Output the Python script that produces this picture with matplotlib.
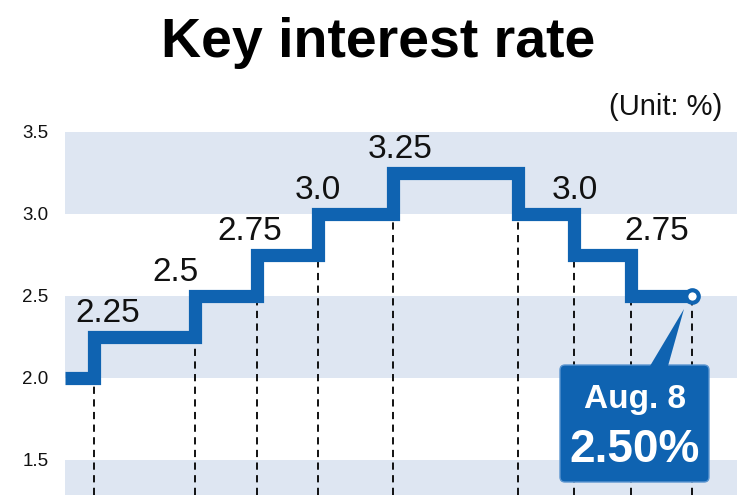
import matplotlib.pyplot as plt
from matplotlib.patches import FancyBboxPatch, Polygon

# step change points (relative position along the time axis) and rate after each change
change_x = [0, 29, 130, 192, 253, 328, 453, 509, 566]
rates = [2.0, 2.25, 2.5, 2.75, 3.0, 3.25, 3.0, 2.75, 2.5]
end_x = 627

label_text = ["2.25", "2.5", "2.75", "3.0", "3.25", "3.0", "2.75"]
ytick_vals = [1.5, 2.0, 2.5, 3.0, 3.5]
ytick_text = ["1.5", "2.0", "2.5", "3.0", "3.5"]

blue = "#0f63b1"
band = "#dee6f2"

plt.rcParams['font.family'] = ['Liberation Sans', 'DejaVu Sans']

fig = plt.figure(figsize=(7.5, 4.95), dpi=100)
ax = fig.add_axes([65 / 750, 0, 672 / 750, 363 / 495])
ymin = 3.5 - 363 / 164
ax.set_xlim(0, 672)
ax.set_ylim(ymin, 3.5)

# horizontal bands
for lo in [1.0, 2.0, 3.0]:
    ax.axhspan(lo, lo + 0.5, color=band, lw=0, zorder=0)

xs = change_x + [end_x]
ys = rates + [rates[-1]]
ax.step(xs, ys, where='post', color=blue, lw=9.5, solid_joinstyle='miter',
        solid_capstyle='butt', zorder=3)

# dashed drop lines from each change
for i in range(1, len(change_x)):
    low = min(rates[i - 1], rates[i])
    ax.plot([change_x[i], change_x[i]], [ymin, low], color='black', lw=1.3,
            ls=(0, (4, 3)), zorder=2)
ax.plot([end_x, end_x], [ymin, rates[-1]], color='black', lw=1.3,
        ls=(0, (4, 3)), zorder=2)

# end marker
ax.plot([end_x], [rates[-1]], marker='o', ms=9, mfc='white', mec=blue,
        mew=3, zorder=5)

# value labels above each level
label_x = [43, 111, 185, 253, 335, 510, 592]
for lx, txt, val in zip(label_x, label_text, rates[1:8]):
    ax.annotate(txt, (lx, val), xytext=(0, 11), textcoords='offset points',
                ha='center', va='baseline', fontsize=24, color='#111111', zorder=4)

# callout box
def ypx(p):
    return 3.5 - (p - 132) / 164

box = FancyBboxPatch((495, ypx(482)), 149, ypx(365) - ypx(482),
                     boxstyle="round,pad=0,rounding_size=5", mutation_aspect=1 / 164,
                     fc=blue, ec='#5b95d0', lw=1, zorder=6)
ax.add_patch(box)
tri = Polygon([(585, ypx(366)), (603, ypx(366)), (end_x - 8, ypx(309))],
              closed=True, fc=blue, ec='none', zorder=6)
ax.add_patch(tri)
ax.text(570, ypx(408), "Aug. 8", ha='center', va='baseline', color='white',
        fontsize=24, fontweight='bold', zorder=7)
ax.text(570, ypx(462), "2.50%", ha='center', va='baseline', color='white',
        fontsize=33, fontweight='bold', zorder=7)

ax.set_xticks([])
ax.set_yticks(ytick_vals)
ax.set_yticklabels(ytick_text, fontsize=13.5, color='#111111')
ax.tick_params(axis='y', length=0, pad=12)
for s in ax.spines.values():
    s.set_visible(False)
ax.patch.set_alpha(0)

fig.text(378 / 750, 1 - 57 / 495, "Key interest rate", ha='center', va='baseline',
         fontsize=40, fontweight='bold')
fig.text(722 / 750, 1 - 115 / 495, "(Unit: %)", ha='right', va='baseline',
         fontsize=21, color='#111111')

fig.savefig("out.png", dpi=100)
